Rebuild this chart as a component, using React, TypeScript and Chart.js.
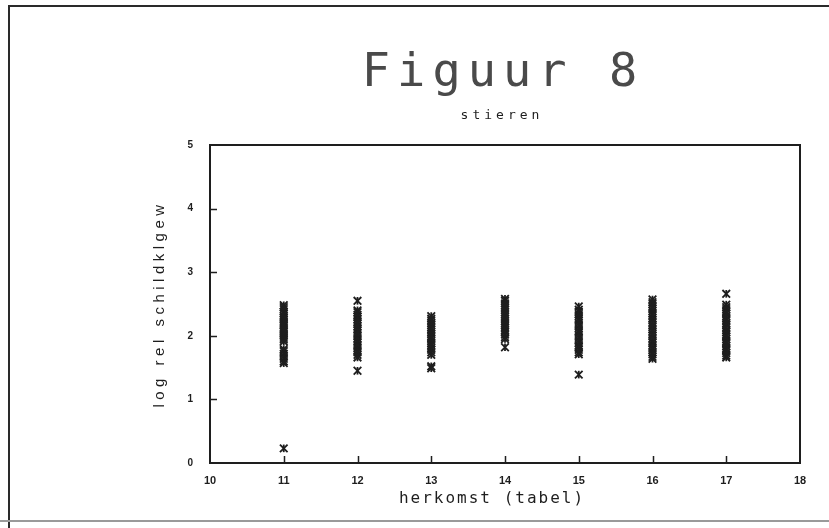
import React, { useEffect, useRef } from "react";
import { Chart, registerables } from "chart.js";

Chart.register(...registerables);

// ---- data ----
const TITLE = "Figuur 8";
const SUBTITLE = "stieren";
const X_TITLE = "herkomst (tabel)";
const Y_TITLE = "log rel schildklgew";

const X_MIN = 10;
const X_MAX = 18;
const Y_MIN = 0;
const Y_MAX = 5;
const X_TICK_MARKS = [11, 12, 13, 14, 15, 16, 17];
const Y_TICK_MARKS = [1, 2, 3, 4];

const herkomst = [11, 12, 13, 14, 15, 16, 17];

const values11 = [2.48, 2.45, 2.42, 2.38, 2.35, 2.31, 2.28, 2.25, 2.22, 2.19, 2.16, 2.12, 2.09, 2.06, 2.03, 2.0, 1.97, 1.94, 1.91, 1.79, 1.76, 1.72, 1.68, 1.64, 1.6, 1.57, 0.23];
const values12 = [2.55, 2.4, 2.37, 2.33, 2.3, 2.26, 2.22, 2.19, 2.15, 2.11, 2.08, 2.04, 2.0, 1.96, 1.92, 1.89, 1.85, 1.81, 1.77, 1.74, 1.7, 1.66, 1.45];
const values13 = [2.31, 2.27, 2.24, 2.2, 2.17, 2.13, 2.1, 2.06, 2.03, 1.99, 1.96, 1.92, 1.88, 1.85, 1.81, 1.78, 1.74, 1.7, 1.52, 1.49];
const values14 = [2.58, 2.55, 2.51, 2.48, 2.44, 2.41, 2.37, 2.34, 2.3, 2.27, 2.23, 2.2, 2.16, 2.13, 2.09, 2.06, 2.02, 1.98, 1.95, 1.82];
const values15 = [2.46, 2.41, 2.38, 2.34, 2.31, 2.27, 2.24, 2.2, 2.16, 2.12, 2.08, 2.05, 2.01, 1.97, 1.93, 1.89, 1.85, 1.82, 1.78, 1.74, 1.71, 1.39];
const values16 = [2.57, 2.53, 2.5, 2.46, 2.43, 2.39, 2.35, 2.32, 2.28, 2.25, 2.21, 2.17, 2.14, 2.1, 2.07, 2.03, 2.0, 1.96, 1.92, 1.89, 1.85, 1.81, 1.78, 1.74, 1.71, 1.67, 1.64];
const values17 = [2.66, 2.49, 2.45, 2.42, 2.38, 2.35, 2.31, 2.27, 2.24, 2.2, 2.17, 2.13, 2.09, 2.06, 2.02, 1.99, 1.95, 1.91, 1.88, 1.84, 1.8, 1.77, 1.73, 1.69, 1.66];

const groups = [values11, values12, values13, values14, values15, values16, values17];

const INK = "#1e1e1e";

export default function App() {
  const ref = useRef<HTMLCanvasElement | null>(null);

  useEffect(() => {
    if (!ref.current) return;
    const points: { x: number; y: number }[] = [];
    groups.forEach((vals, i) => {
      vals.forEach((v) => points.push({ x: herkomst[i], y: v }));
    });

    const decor = {
      id: "decor",
      beforeDraw(chart: any) {
        const ctx = chart.ctx;
        ctx.save();
        ctx.fillStyle = "#ffffff";
        ctx.fillRect(0, 0, chart.width, chart.height);
        ctx.strokeStyle = "#2a2a2a";
        ctx.lineWidth = 2;
        ctx.beginPath();
        ctx.moveTo(9, 528);
        ctx.lineTo(9, 6);
        ctx.lineTo(829, 6);
        ctx.stroke();
        ctx.strokeStyle = "#9a9a9a";
        ctx.lineWidth = 2;
        ctx.beginPath();
        ctx.moveTo(0, 521);
        ctx.lineTo(829, 521);
        ctx.stroke();
        ctx.restore();
      },
      afterDraw(chart: any) {
        const ctx = chart.ctx;
        const a = chart.chartArea;
        const xs = chart.scales.x;
        const ys = chart.scales.y;
        ctx.save();
        ctx.strokeStyle = INK;
        ctx.lineWidth = 2;
        ctx.strokeRect(a.left, a.top, a.right - a.left, a.bottom - a.top);
        ctx.lineWidth = 1.5;
        ctx.beginPath();
        X_TICK_MARKS.forEach((v) => {
          const px = Math.round(xs.getPixelForValue(v)) + 0.5;
          ctx.moveTo(px, a.bottom);
          ctx.lineTo(px, a.bottom - 7);
        });
        Y_TICK_MARKS.forEach((v) => {
          const py = Math.round(ys.getPixelForValue(v)) + 0.5;
          ctx.moveTo(a.left, py);
          ctx.lineTo(a.left + 7, py);
        });
        ctx.stroke();

        ctx.textAlign = "center";
        ctx.textBaseline = "alphabetic";
        ctx.font = "47px 'DejaVu Sans Mono'";
        (ctx as any).letterSpacing = "7px";
        ctx.fillStyle = "#4a4a4a";
        ctx.fillText(TITLE, 503, 86);
        ctx.fillStyle = INK;
        ctx.font = "13px 'DejaVu Sans Mono'";
        (ctx as any).letterSpacing = "4px";
        ctx.fillText(SUBTITLE, 502, 119);
        ctx.font = "16px 'DejaVu Sans Mono'";
        (ctx as any).letterSpacing = "2px";
        ctx.fillText(X_TITLE, 492, 503);
        ctx.translate(160, 304);
        ctx.rotate(-Math.PI / 2);
        ctx.font = "15px 'Liberation Sans'";
        (ctx as any).letterSpacing = "4.5px";
        ctx.textBaseline = "middle";
        ctx.fillText(Y_TITLE, 0, 0);
        ctx.restore();
      },
    };

    const chart = new Chart(ref.current, {
      type: "scatter",
      data: {
        datasets: [
          {
            data: points,
            pointStyle: "crossRot",
            pointRadius: 5.4,
            pointBorderWidth: 1.8,
            borderColor: INK,
            backgroundColor: INK,
            pointHoverRadius: 5.4,
          },
          {
            data: points,
            pointStyle: "line",
            pointRotation: 90,
            pointRadius: 3.8,
            pointBorderWidth: 1.8,
            borderColor: INK,
            backgroundColor: INK,
            pointHoverRadius: 3.8,
          },
        ],
      },
      options: {
        animation: false,
        responsive: false,
        events: [],
        layout: { padding: { top: 145, right: 29, left: 0, bottom: 0 } },
        plugins: {
          legend: { display: false },
          tooltip: { enabled: false },
          title: { display: false },
        },
        scales: {
          x: {
            type: "linear",
            min: X_MIN,
            max: X_MAX,
            grid: { display: false },
            border: { display: false },
            ticks: {
              stepSize: 1,
              padding: 3,
              color: INK,
              font: { family: "'Liberation Sans'", size: 11, weight: "bold" },
            },
            afterFit: (s: any) => {
              s.height = 65;
            },
          },
          y: {
            type: "linear",
            min: Y_MIN,
            max: Y_MAX,
            grid: { display: false },
            border: { display: false },
            ticks: {
              stepSize: 1,
              padding: 9,
              color: INK,
              font: { family: "'Liberation Sans'", size: 10, weight: "bold" },
            },
            afterFit: (s: any) => {
              s.width = 210;
            },
          },
        },
      },
      plugins: [decor],
    } as any);

    return () => chart.destroy();
  }, []);

  return (
    <div style={{ position: "absolute", left: 0, top: 0, width: 829, height: 528, background: "#fff" }}>
      <canvas ref={ref} width={829} height={528} style={{ display: "block" }} />
    </div>
  );
}
